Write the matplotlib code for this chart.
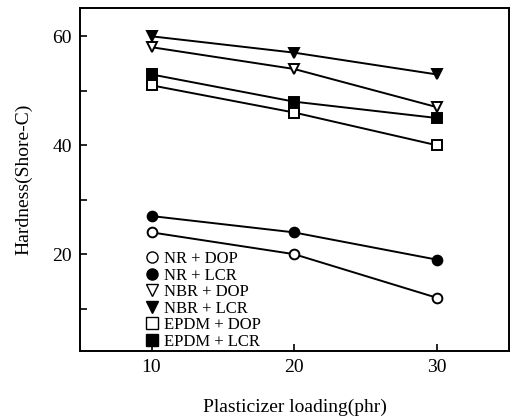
import matplotlib
matplotlib.use("Agg")
import matplotlib.pyplot as plt
from matplotlib.ticker import MultipleLocator

loading = [10, 20, 30]
nr_dop = [24, 20, 12]
nr_lcr = [27, 24, 19]
nbr_dop = [58, 54, 47]
nbr_lcr = [60, 57, 53]
epdm_dop = [51, 46, 40]
epdm_lcr = [53, 48, 45]
labels = ["NR + DOP", "NR + LCR", "NBR + DOP", "NBR + LCR", "EPDM + DOP", "EPDM + LCR"]

plt.rcParams["font.family"] = ["Liberation Serif", "DejaVu Serif"]

fig = plt.figure(figsize=(5.11, 4.2), dpi=100)
ax = fig.add_axes([0.157, 0.164, 0.84, 0.817])

series = [
    (nr_dop, "o", "white"),
    (nr_lcr, "o", "black"),
    (nbr_dop, "v", "white"),
    (nbr_lcr, "v", "black"),
    (epdm_dop, "s", "white"),
    (epdm_lcr, "s", "black"),
]
for (vals, mk, fc), lab in zip(series, labels):
    ax.plot(loading, vals, color="black", lw=1.4, marker=mk, ms=7,
            mfc=fc, mec="black", mew=1.4, label=lab)

ax.set_xlim(5, 35.1)
ax.set_ylim(2.2, 65.2)
ax.set_xticks(loading)
ax.yaxis.set_major_locator(MultipleLocator(20))
ax.yaxis.set_minor_locator(MultipleLocator(10))
ax.tick_params(direction="in", length=5, width=1.2, labelsize=14, pad=6)
ax.tick_params(which="minor", direction="in", length=5, width=1.2)
for s in ax.spines.values():
    s.set_linewidth(1.4)

ax.set_xlabel("Plasticizer loading(phr)", fontsize=14, labelpad=16)
ax.set_ylabel("Hardness(Shore-C)", fontsize=14, labelpad=14)

leg_handles = []
for (vals, mk, fc) in series:
    h, = ax.plot([], [], ls="none", marker=mk, ms=8, mfc=fc, mec="black", mew=1)
    leg_handles.append(h)
ax.legend(leg_handles, labels, loc="lower left", bbox_to_anchor=(0.128, -0.025),
          frameon=False, fontsize=12, handlelength=0.8, handletextpad=0.3,
          labelspacing=0.03, borderaxespad=0.2)

fig.savefig("out.png", dpi=100)
